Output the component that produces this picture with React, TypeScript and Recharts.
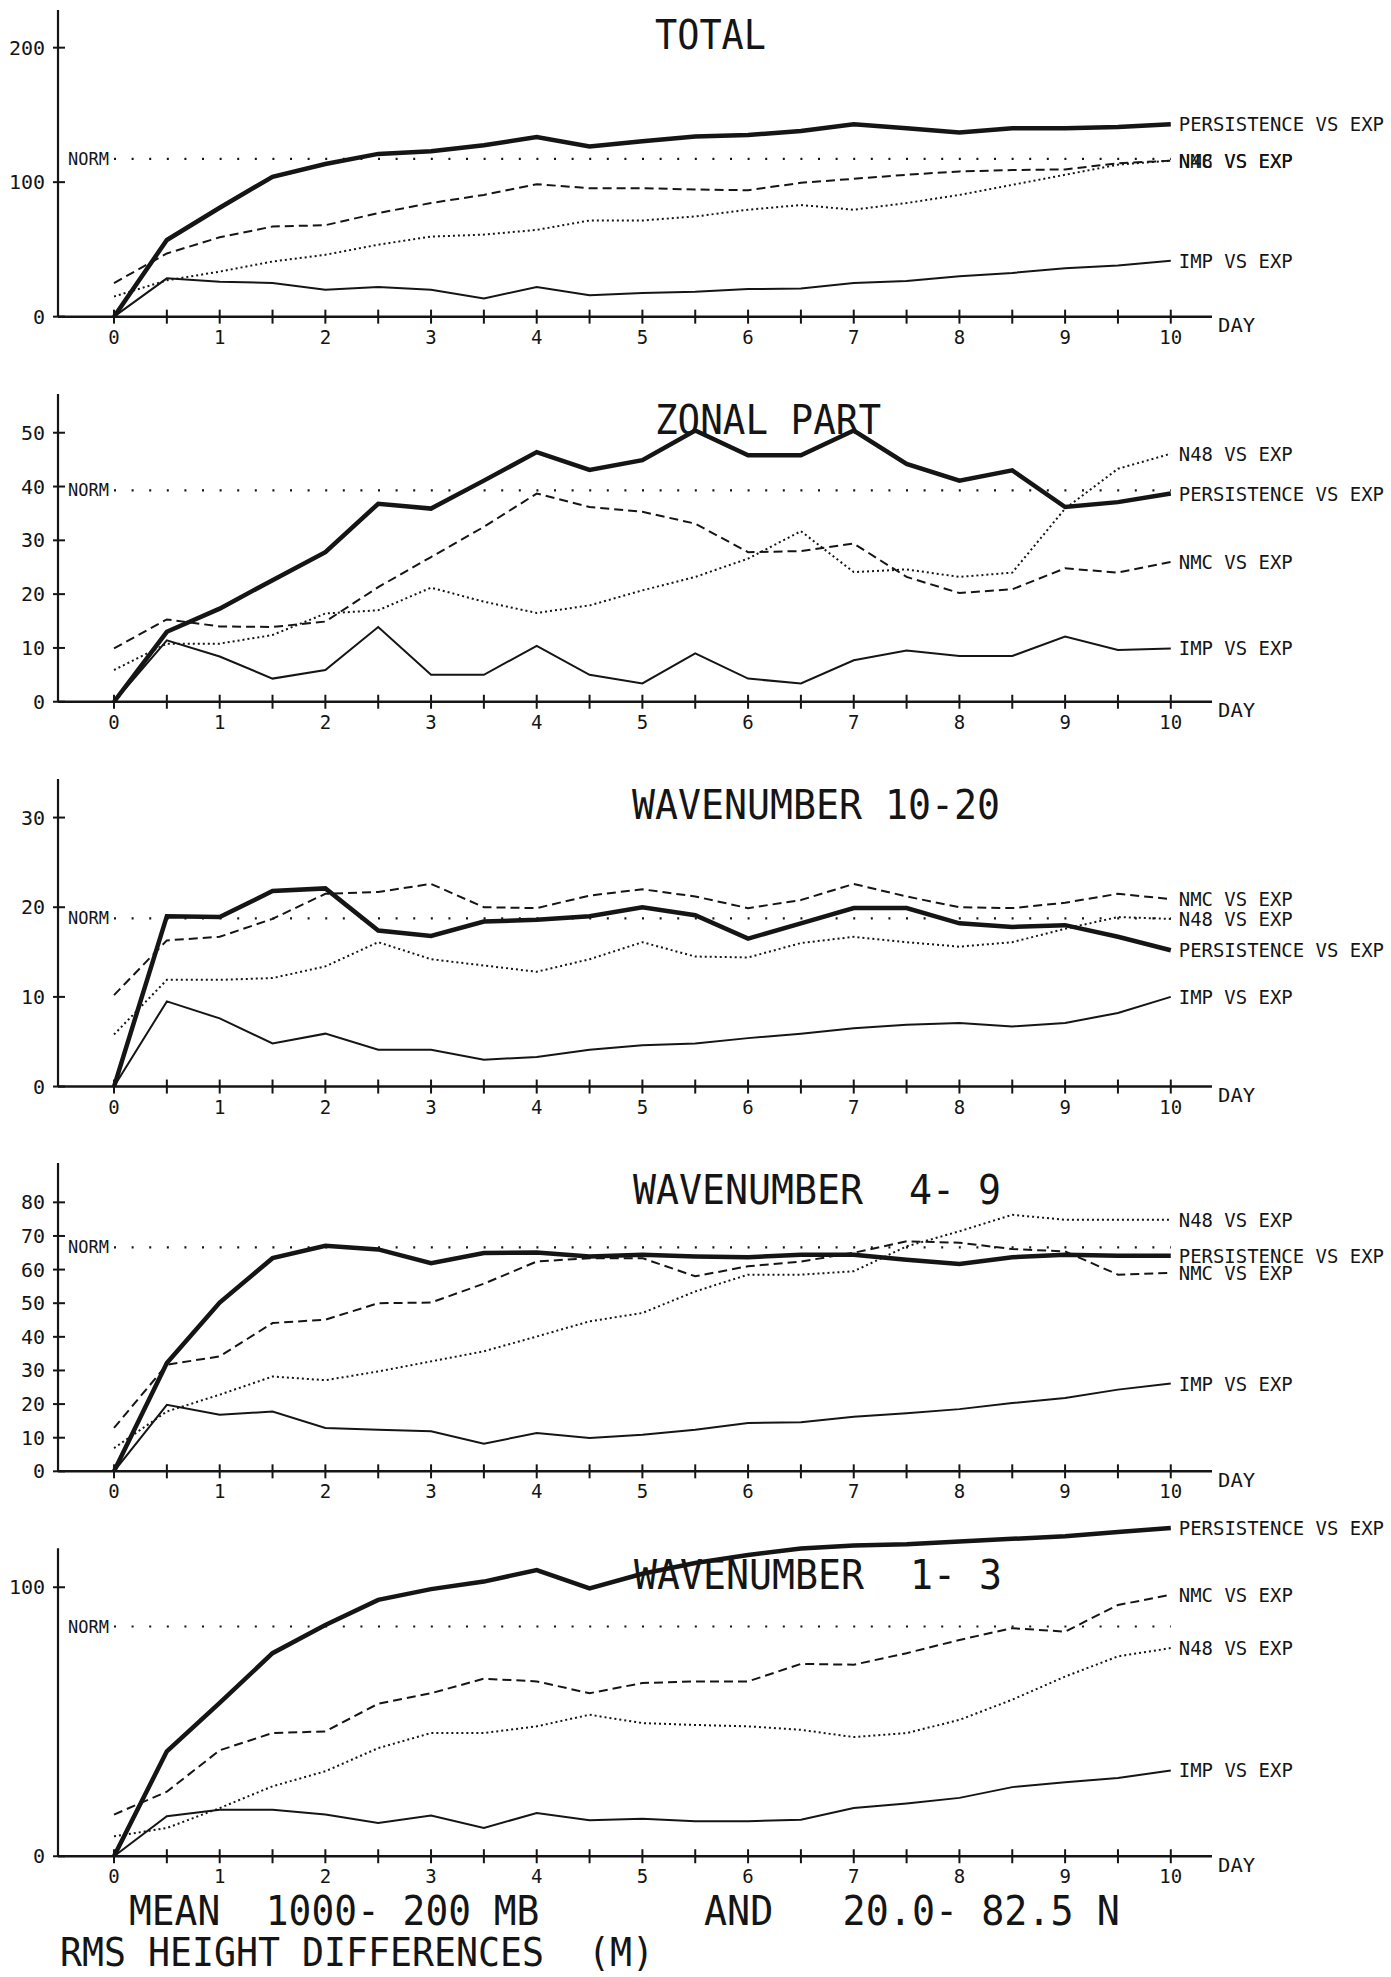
import { LineChart, Line, XAxis, YAxis, ReferenceLine } from "recharts";

const INK = "#151515";
const FONT = "'DejaVu Sans Mono', 'Liberation Mono', monospace";

// forecast day, every half day
const days = [0, 0.5, 1, 1.5, 2, 2.5, 3, 3.5, 4, 4.5, 5, 5.5, 6, 6.5, 7, 7.5, 8, 8.5, 9, 9.5, 10];
const dayTicks = days;

// TOTAL
const totalPersistence = [0, 57, 81, 104, 113.5, 121, 123, 127.5, 133.5, 126.5, 130.5, 134, 135, 138, 143, 140, 137, 140, 140, 141, 143];
const totalNmc = [25, 47, 59, 67, 68, 77, 84.5, 90.5, 98.5, 95.5, 95.5, 94.5, 94, 99.5, 102.5, 105.5, 108, 109, 109.5, 114, 116];
const totalN48 = [15, 27, 33.5, 41, 46, 53.5, 59.5, 61, 64.5, 71.5, 71.5, 74.5, 79.5, 83, 79.5, 84.5, 90.5, 98, 105.5, 113, 116];
const totalImp = [0, 28.5, 26, 25, 20, 22, 20, 13.5, 22, 16, 17.5, 18.5, 20.5, 21, 25, 26.5, 30, 32.5, 36, 38, 41.5];

// ZONAL PART
const zonalPersistence = [0, 13, 17.3, 22.6, 27.8, 36.8, 35.9, 41.1, 46.4, 43.1, 44.9, 50.4, 45.8, 45.8, 50.4, 44.2, 41.1, 43, 36.2, 37.1, 38.7];
const zonalNmc = [9.9, 15.3, 14, 13.9, 14.9, 21.3, 26.9, 32.5, 38.7, 36.2, 35.3, 33.1, 27.8, 28, 29.4, 23.2, 20.2, 20.9, 24.8, 24, 26];
const zonalN48 = [5.9, 10.8, 10.8, 12.4, 16.4, 17, 21.2, 18.6, 16.5, 17.9, 20.7, 23.2, 26.6, 31.7, 24.1, 24.6, 23.2, 24, 35.9, 43.3, 46.1];
const zonalImp = [0, 11.4, 8.4, 4.3, 5.9, 13.9, 5, 5, 10.4, 5, 3.4, 9, 4.3, 3.4, 7.7, 9.5, 8.5, 8.5, 12.1, 9.6, 9.9];

// WAVENUMBER 10-20
const w1020Persistence = [0, 19, 18.9, 21.8, 22.1, 17.4, 16.8, 18.4, 18.6, 19, 20, 19.1, 16.5, 18.2, 19.9, 19.9, 18.2, 17.8, 18, 16.7, 15.2];
const w1020Nmc = [10.2, 16.3, 16.7, 18.7, 21.5, 21.7, 22.6, 20, 19.9, 21.3, 22, 21.2, 19.9, 20.8, 22.6, 21.2, 20, 19.9, 20.5, 21.5, 20.9];
const w1020N48 = [5.8, 11.9, 11.9, 12.1, 13.4, 16.1, 14.2, 13.5, 12.8, 14.2, 16.1, 14.5, 14.4, 16, 16.7, 16.1, 15.6, 16.1, 17.6, 18.9, 18.7];
const w1020Imp = [0, 9.5, 7.6, 4.8, 5.9, 4.1, 4.1, 3, 3.3, 4.1, 4.6, 4.8, 5.4, 5.9, 6.5, 6.9, 7.1, 6.7, 7.1, 8.2, 10];

// WAVENUMBER 4-9
const w49Persistence = [0, 32.2, 50.2, 63.4, 67.1, 66, 61.9, 64.9, 65.1, 63.9, 64.4, 63.9, 63.7, 64.4, 64.4, 62.9, 61.7, 63.7, 64.4, 64.1, 64.1];
const w49Nmc = [12.9, 31.7, 34.2, 44.1, 45.1, 50, 50.2, 55.8, 62.4, 63.4, 63.4, 58, 61, 62.4, 65, 68.4, 68, 66.1, 65.4, 58.5, 59];
const w49N48 = [6.9, 17.8, 22.8, 28.2, 27.1, 29.7, 32.7, 35.7, 40.1, 44.6, 47.1, 53.5, 58.5, 58.5, 59.5, 66.9, 71.4, 76.3, 74.8, 74.8, 74.8];
const w49Imp = [0, 19.8, 16.8, 17.8, 12.9, 12.4, 11.9, 8.2, 11.4, 9.9, 10.9, 12.4, 14.4, 14.6, 16.2, 17.3, 18.5, 20.3, 21.8, 24.3, 26.1];

// WAVENUMBER 1-3
const w13Persistence = [0, 39, 57, 75.5, 86, 95.3, 99.3, 102.1, 106.4, 99.6, 105, 109, 112, 114.4, 115.5, 116, 117, 118, 119, 120.5, 122];
const w13Nmc = [15.5, 24, 39.4, 45.8, 46.4, 56.7, 60.6, 66, 65, 60.6, 64.4, 65, 65, 71.5, 71.2, 75.5, 80.4, 84.8, 83.5, 93.4, 97.2];
const w13N48 = [7.4, 10.5, 17.9, 26, 31.6, 40.2, 45.8, 45.8, 48.3, 52.6, 49.5, 48.8, 48.3, 47, 44.3, 45.8, 50.7, 58.2, 66.8, 74.3, 77.4];
const w13Imp = [0, 14.9, 17.3, 17.3, 15.5, 12.4, 15.1, 10.5, 16.1, 13.4, 13.9, 13, 13, 13.6, 17.9, 19.6, 21.7, 25.7, 27.5, 29.1, 31.9];

type Panel = {
  title: string;
  titleX: number;
  titleCharW: number;
  yTicks: number[];
  tickSpan: number;
  axisTop: number;
  yMax: number;
  norm: number;
  persistence: number[];
  nmc: number[];
  n48: number[];
  imp: number[];
};

const panels: Panel[] = [
  { title: "TOTAL", titleX: 655, titleCharW: 22.2, yTicks: [0, 100, 200], tickSpan: 200, axisTop: 228, yMax: 228, norm: 117.3, persistence: totalPersistence, nmc: totalNmc, n48: totalN48, imp: totalImp },
  { title: "ZONAL PART", titleX: 655, titleCharW: 22.6, yTicks: [0, 10, 20, 30, 40, 50], tickSpan: 50, axisTop: 57.2, yMax: 57.2, norm: 39.3, persistence: zonalPersistence, nmc: zonalNmc, n48: zonalN48, imp: zonalImp },
  { title: "WAVENUMBER 10-20", titleX: 632, titleCharW: 23, yTicks: [0, 10, 20, 30], tickSpan: 30, axisTop: 34.3, yMax: 34.3, norm: 18.75, persistence: w1020Persistence, nmc: w1020Nmc, n48: w1020N48, imp: w1020Imp },
  { title: "WAVENUMBER  4- 9", titleX: 633, titleCharW: 23, yTicks: [0, 10, 20, 30, 40, 50, 60, 70, 80], tickSpan: 80, axisTop: 91.7, yMax: 91.7, norm: 66.6, persistence: w49Persistence, nmc: w49Nmc, n48: w49N48, imp: w49Imp },
  { title: "WAVENUMBER  1- 3", titleX: 634, titleCharW: 23, yTicks: [0, 100], tickSpan: 100, axisTop: 114.5, yMax: 125, norm: 85.4, persistence: w13Persistence, nmc: w13Nmc, n48: w13N48, imp: w13Imp },
];

const PAGE_W = 1391;
const PAGE_H = 1977;
const ZERO_Y0 = 316.7;
const PANEL_STEP = 385;
const SPAN_PX = 269;
const MT = 4;
const XH = 60;
const YW = 58;
const MR = 179;
const X_MIN = -0.53;
const X_MAX = 10.39;

function DayTick(props: any) {
  const { x, y, payload } = props;
  const v = payload.value;
  return (
    <g>
      <line x1={x} x2={x} y1={y - 7} y2={y + 7} stroke={INK} strokeWidth={2} />
      {Number.isInteger(v) && (
        <text x={x} y={y + 27} textAnchor="middle" fontFamily={FONT} fontSize={19} fill={INK}>
          {v}
        </text>
      )}
    </g>
  );
}

function ValueTick(props: any) {
  const { x, y, payload } = props;
  return (
    <g>
      <line x1={x - 5} x2={x + 7} y1={y} y2={y} stroke={INK} strokeWidth={2} />
      <text x={x - 13} y={y + 7} textAnchor="end" fontFamily={FONT} fontSize={20} fill={INK}>
        {payload.value}
      </text>
    </g>
  );
}

const endLabel = (texts: string[]) => (props: any) => {
  if (props.index !== days.length - 1) return null;
  const x = props.x ?? props.viewBox?.x;
  const y = props.y ?? props.viewBox?.y;
  if (x == null || y == null) return null;
  return (
    <g>
      {texts.map((t) => (
        <text
          key={t}
          x={x + 8}
          y={y + 7}
          fontFamily={FONT}
          fontSize={19}
          fill={INK}
          textLength={t.length * 11.4}
          lengthAdjust="spacingAndGlyphs"
        >
          {t}
        </text>
      ))}
    </g>
  );
};

function PanelChart({ p, i }: { p: Panel; i: number }) {
  const pxPerUnit = SPAN_PX / p.tickSpan;
  const plotH = p.yMax * pxPerUnit;
  const zeroY = ZERO_Y0 + PANEL_STEP * i;
  const chartH = MT + plotH + XH;
  const top = zeroY - plotH - MT;
  const rows = days.map((d, k) => ({
    day: d,
    persistence: p.persistence[k],
    nmc: p.nmc[k],
    n48: p.n48[k],
    imp: p.imp[k],
  }));
  // in the TOTAL panel the NMC and N48 labels print over each other
  const nmcLabels = i === 0 ? ["NMC VS EXP", "N48 VS EXP"] : ["NMC VS EXP"];
  const n48Labels = i === 0 ? [] : ["N48 VS EXP"];
  return (
    <div style={{ position: "absolute", left: 0, top }}>
      <LineChart width={PAGE_W} height={chartH} data={rows} margin={{ top: MT, right: MR, bottom: 0, left: 0 }}>
        <XAxis
          dataKey="day"
          type="number"
          domain={[X_MIN, X_MAX]}
          ticks={dayTicks}
          interval={0}
          height={XH}
          tickSize={0}
          tickMargin={0}
          tickLine={false}
          axisLine={{ stroke: INK, strokeWidth: 2.5 }}
          tick={<DayTick />}
        />
        <YAxis
          type="number"
          domain={[0, p.yMax]}
          ticks={p.yTicks}
          interval={0}
          width={YW}
          tickSize={0}
          tickMargin={0}
          tickLine={false}
          axisLine={false}
          tick={<ValueTick />}
        />
        <ReferenceLine
          segment={[{ x: X_MIN, y: 0 }, { x: X_MIN, y: p.axisTop }]}
          stroke={INK}
          strokeWidth={2.2}
          ifOverflow="visible"
        />
        <ReferenceLine
          segment={[{ x: 0, y: p.norm }, { x: 10, y: p.norm }]}
          stroke={INK}
          strokeWidth={2.2}
          strokeDasharray="2 15.6"
          ifOverflow="visible"
          label={{ value: "NORM", position: "left", offset: 5, fill: INK, fontSize: 17, fontFamily: FONT }}
        />
        <Line dataKey="imp" type="linear" stroke={INK} strokeWidth={2} dot={false} isAnimationActive={false} label={endLabel(["IMP VS EXP"])} />
        <Line dataKey="n48" type="linear" stroke={INK} strokeWidth={2} strokeDasharray="2 3" dot={false} isAnimationActive={false} label={endLabel(n48Labels)} />
        <Line dataKey="nmc" type="linear" stroke={INK} strokeWidth={2} strokeDasharray="9 5" dot={false} isAnimationActive={false} label={endLabel(nmcLabels)} />
        <Line dataKey="persistence" type="linear" stroke={INK} strokeWidth={4.5} dot={false} isAnimationActive={false} label={endLabel(["PERSISTENCE VS EXP"])} />
      </LineChart>
    </div>
  );
}

function PlotterText({ x, y, text, charW, size }: { x: number; y: number; text: string; charW: number; size: number }) {
  return (
    <text
      x={x}
      y={y}
      fontFamily={FONT}
      fontSize={size}
      fill={INK}
      textLength={text.length * charW}
      lengthAdjust="spacingAndGlyphs"
      style={{ whiteSpace: "pre" }}
    >
      {text}
    </text>
  );
}

export default function App() {
  return (
    <div style={{ position: "absolute", left: 0, top: 0, width: PAGE_W, height: PAGE_H, background: "#fff", overflow: "hidden" }}>
      {panels.map((p, i) => (
        <PanelChart key={p.title} p={p} i={i} />
      ))}
      <svg width={PAGE_W} height={PAGE_H} style={{ position: "absolute", left: 0, top: 0, pointerEvents: "none" }}>
        {panels.map((p, i) => {
          const zeroY = ZERO_Y0 + PANEL_STEP * i;
          return (
            <g key={p.title}>
              <PlotterText x={p.titleX} y={zeroY - 268} text={p.title} charW={p.titleCharW} size={40} />
              <PlotterText x={1218} y={zeroY + 15} text="DAY" charW={12.4} size={19} />
            </g>
          );
        })}
        <PlotterText x={129} y={1925} text="MEAN  1000- 200 MB" charW={22.8} size={40} />
        <PlotterText x={704} y={1925} text="AND   20.0- 82.5 N" charW={23.1} size={40} />
        <PlotterText x={60} y={1966} text="RMS HEIGHT DIFFERENCES  (M)" charW={22} size={39} />
      </svg>
    </div>
  );
}
